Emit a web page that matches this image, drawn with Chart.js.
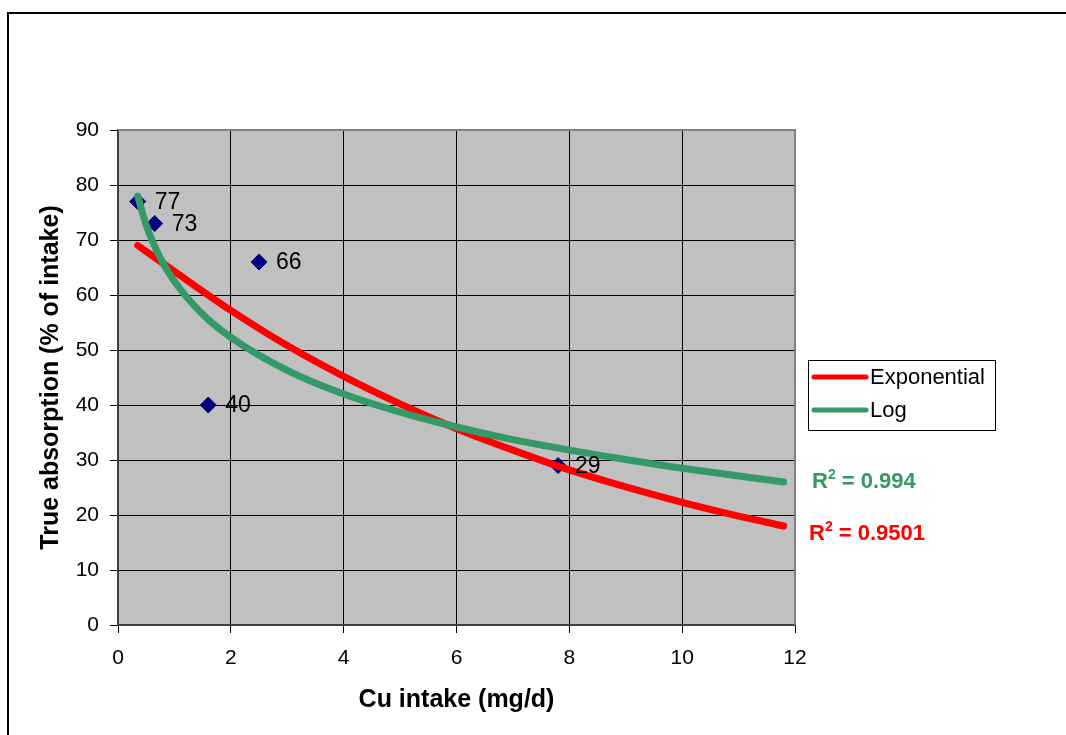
<!DOCTYPE html>
<html>
<head>
<meta charset="utf-8">
<script src="https://cdn.jsdelivr.net/npm/chart.js@4.4.0/dist/chart.umd.min.js"></script>
<style>
  html, body { margin: 0; padding: 0; background: #ffffff; }
  #wrap { width: 1066px; height: 735px; }
</style>
</head>
<body>
<div id="wrap"><canvas id="cuChart" width="1066" height="735"></canvas></div>
<script>
// measured points
const intakeX = [0.35, 0.65, 2.5, 1.6, 7.8];
const absorptionY = [77, 73, 66, 40, 29];

// trend lines
const expX = [0.35, 1, 2, 3, 4, 5, 6, 7, 8, 9, 10, 11, 11.8];
const expY = [69, 64.3, 57.2, 50.8, 45.2, 40.2, 35.7, 31.8, 28.2, 25.1, 22.3, 19.8, 18];
const logX = [0.35, 0.5, 0.75, 1, 1.5, 2, 3, 4, 5, 6, 7, 8, 9, 10, 11, 11.8];
const logY = [78, 72.7, 66.7, 62.5, 56.5, 52.3, 46.3, 42, 38.7, 36, 33.7, 31.8, 30.1, 28.5, 27.1, 26];

const legendNames = ['Exponential', 'Log'];
const rSquared = ['0.9501', '0.994'];
const xTitle = 'Cu intake (mg/d)';
const yTitle = 'True absorption (% of intake)';

const red = '#ff0000';
const green = '#339966';
const navy = '#000080';
const FONT = "'Liberation Sans', Arial, sans-serif";

function toPoints(xs, ys) {
    return xs.map((x, i) => ({ x: x, y: ys[i] }));
}

// outer frame + grey plot area
const backPlugin = {
    id: 'back',
    beforeDraw(chart) {
        const { ctx, chartArea: a } = chart;
        ctx.save();
        ctx.strokeStyle = '#000';
        ctx.lineWidth = 2;
        ctx.strokeRect(8, 13, 1200, 900);
        ctx.fillStyle = '#c0c0c0';
        ctx.fillRect(a.left, a.top, a.width, a.height);
        ctx.restore();
    },
    beforeDatasetsDraw(chart) {
        const { ctx, chartArea: a } = chart;
        ctx.save();
        ctx.strokeStyle = '#808080';
        ctx.lineWidth = 2;
        ctx.beginPath();
        ctx.moveTo(a.left, a.top);
        ctx.lineTo(a.right, a.top);
        ctx.lineTo(a.right, a.bottom);
        ctx.stroke();
        ctx.restore();
    }
};

// value labels beside the diamonds
const labelPlugin = {
    id: 'pointLabels',
    afterDatasetsDraw(chart) {
        const ctx = chart.ctx;
        const meta = chart.getDatasetMeta(2);
        ctx.save();
        ctx.font = '23px ' + FONT;
        ctx.fillStyle = '#000';
        ctx.textAlign = 'left';
        ctx.textBaseline = 'middle';
        meta.data.forEach((pt, i) => {
            ctx.fillText(String(absorptionY[i]), pt.x + 17, pt.y + 1);
        });
        ctx.restore();
    }
};

// legend box and R² texts
const legendPlugin = {
    id: 'sideLegend',
    afterDraw(chart) {
        const { ctx, chartArea: a, scales } = chart;
        const colors = [red, green];
        const bx = a.right + 13, by = 360, bw = 187, bh = 70;
        ctx.save();
        ctx.fillStyle = '#fff';
        ctx.fillRect(bx, by, bw, bh);
        ctx.strokeStyle = '#000';
        ctx.lineWidth = 1;
        ctx.strokeRect(bx + 0.5, by + 0.5, bw, bh);
        ctx.font = '22px ' + FONT;
        ctx.textBaseline = 'middle';
        ctx.lineCap = 'round';
        legendNames.forEach((name, i) => {
            const y = by + 17 + i * 33;
            ctx.strokeStyle = colors[i];
            ctx.lineWidth = 5;
            ctx.beginPath();
            ctx.moveTo(bx + 6, y);
            ctx.lineTo(bx + 58, y);
            ctx.stroke();
            ctx.fillStyle = '#000';
            ctx.fillText(name, bx + 62, y + 1);
        });

        // R² labels near the line ends
        const ends = [
            { y: scales.y.getPixelForValue(expY[expY.length - 1]) + 14, x: a.right + 14 },
            { y: scales.y.getPixelForValue(logY[logY.length - 1]) + 6, x: a.right + 17 }
        ];
        ctx.textBaseline = 'alphabetic';
        ends.forEach((e, i) => {
            ctx.fillStyle = colors[i];
            ctx.font = 'bold 22px ' + FONT;
            ctx.fillText('R', e.x, e.y);
            let x = e.x + ctx.measureText('R').width;
            ctx.font = 'bold 14px ' + FONT;
            ctx.fillText('2', x, e.y - 9);
            x += ctx.measureText('2').width;
            ctx.font = 'bold 22px ' + FONT;
            ctx.fillText(' = ' + rSquared[i], x, e.y);
        });
        ctx.restore();
    }
};

const ctx = document.getElementById('cuChart').getContext('2d');
const chart = new Chart(ctx, {
    type: 'scatter',
    data: {
        datasets: [
            {
                label: legendNames[1],
                data: toPoints(logX, logY),
                showLine: true,
                borderColor: green,
                borderWidth: 7,
                borderCapStyle: 'round',
                cubicInterpolationMode: 'monotone',
                pointRadius: 0
            },
            {
                label: legendNames[0],
                data: toPoints(expX, expY),
                showLine: true,
                borderColor: red,
                borderWidth: 7,
                borderCapStyle: 'round',
                cubicInterpolationMode: 'monotone',
                pointRadius: 0
            },
            {
                label: 'data',
                data: toPoints(intakeX, absorptionY),
                showLine: false,
                pointStyle: 'rectRot',
                pointRadius: 8,
                pointBackgroundColor: navy,
                pointBorderColor: navy,
                pointBorderWidth: 1
            }
        ]
    },
    options: {
        responsive: false,
        devicePixelRatio: 1,
        animation: false,
        layout: { padding: { left: 0, top: 130, right: 271, bottom: 0 } },
        plugins: {
            legend: { display: false },
            tooltip: { enabled: false }
        },
        scales: {
            x: {
                type: 'linear',
                min: 0,
                max: 12,
                afterFit: s => { s.height = 110; },
                ticks: { stepSize: 2, color: '#000', padding: 13, font: { family: FONT, size: 21 } },
                grid: { color: '#000', lineWidth: 1, tickLength: 8, tickColor: '#000' },
                border: { color: '#404040', width: 2 },
                title: {
                    display: true,
                    text: xTitle,
                    color: '#000',
                    font: { family: FONT, size: 25, weight: 'bold' },
                    padding: { top: 0, bottom: 20 }
                }
            },
            y: {
                min: 0,
                max: 90,
                afterFit: s => { s.width = 118; },
                ticks: { stepSize: 10, color: '#000', padding: 11, font: { family: FONT, size: 21 } },
                grid: { color: '#000', lineWidth: 1, tickLength: 8, tickColor: '#000' },
                border: { color: '#404040', width: 2 },
                title: {
                    display: true,
                    text: yTitle,
                    color: '#000',
                    font: { family: FONT, size: 25, weight: 'bold' },
                    padding: { top: 36, bottom: 0 }
                }
            }
        }
    },
    plugins: [backPlugin, labelPlugin, legendPlugin]
});
</script>
</body>
</html>
